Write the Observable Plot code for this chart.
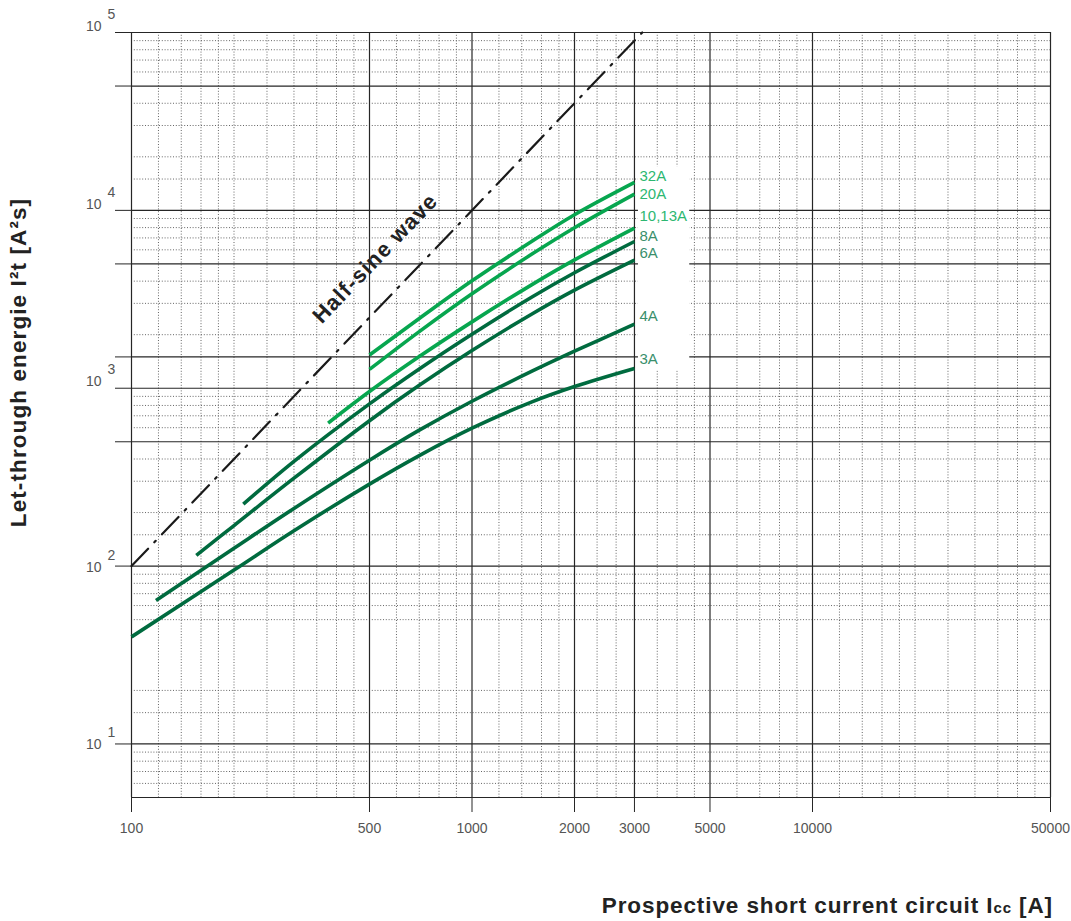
<!DOCTYPE html>
<html><head><meta charset="utf-8">
<script src="https://cdn.jsdelivr.net/npm/d3@7"></script>
<script src="https://cdn.jsdelivr.net/npm/@observablehq/plot@0.6"></script>
<style>
body{margin:0;background:#fff;}
#chart svg{display:block}
</style></head><body><div id="chart"></div>
<script>
// ---- curve data (prospective current A -> let-through energy A²s) ----
const x3A  = [100, 200, 300, 500, 700, 1000, 1500, 2000, 3000];
const y3A  = [40, 95, 158, 289, 418, 596, 838, 1022, 1291];
const x4A  = [118, 200, 300, 500, 700, 1000, 1500, 2000, 3000];
const y4A  = [64, 126, 211, 394, 581, 845, 1246, 1615, 2292];
const x6A  = [155, 200, 300, 500, 700, 1000, 1500, 2000, 3000];
const y6A  = [115, 169, 312, 657, 1038, 1628, 2616, 3561, 5252];
const x8A  = [213, 300, 500, 700, 1000, 1500, 2000, 3000];
const y8A  = [223, 388, 817, 1284, 2013, 3260, 4461, 6683];
const x10A = [378, 500, 700, 1000, 1500, 2000, 3000];
const y10A = [637, 958, 1506, 2361, 3824, 5265, 7952];
const x20A = [500, 700, 1000, 1500, 2000, 3000];
const y20A = [1276, 2082, 3398, 5677, 7983, 12337];
const x32A = [500, 700, 1000, 1500, 2000, 3000];
const y32A = [1539, 2465, 4016, 6700, 9446, 14355];
const seriesNames = ["3A", "4A", "6A", "8A", "10,13A", "20A", "32A"];

// half-sine reference line
const halfSineX = [100, 3162];
const halfSineY = [100, 100000];
const halfSineLabel = "Half-sine wave";
const halfSineLabelAt = [520, 2704];

// axes / grid values
const xTicks = [100, 500, 1000, 2000, 3000, 5000, 10000, 50000];
const xMinor = [120,140,160,180,200,250,300,350,400,450,600,700,800,900,1200,1400,1600,1800,2330,2650,3500,4000,4500,6000,7000,8000,9000,12000,14000,16000,18000,20000,25000,30000,35000,40000,45000];
const yMajor = [5, 10, 100, 500, 1000, 1500, 5000, 10000, 50000, 100000];
const yMinor = [6,7,8,9,15,20,50,60,70,80,90,150,200,300,400,600,700,800,900,2000,3000,4000,6000,7000,8000,9000,15000,20000,30000,40000,60000,70000,80000,90000];
const yTickMarks = [10, 100, 500, 1000, 1500, 5000, 10000, 50000, 100000];
const yDecades = [10, 100, 1000, 10000, 100000];
const yExponents = ["1", "2", "3", "4", "5"];
const xTitle = "Prospective short current circuit I";
const xTitleSub = "cc";
const xTitleEnd = " [A]";
const yTitle = "Let-through energie I²t [A²s]";

// ---- styles (kept apart from the data) ----
const dark = "#006b3f", bright = "#07a64f";
const darkLabel = "#3a8f6c", brightLabel = "#2db771";
const lineColor = {"3A": dark, "4A": dark, "6A": dark, "8A": dark, "10,13A": bright, "20A": bright, "32A": bright};
const labelColor = {"3A": darkLabel, "4A": darkLabel, "6A": darkLabel, "8A": darkLabel, "10,13A": brightLabel, "20A": brightLabel, "32A": brightLabel};
const labelDy = {"3A": -9, "4A": -8, "6A": -7, "8A": -5, "10,13A": -12, "20A": 0, "32A": -6};
const yBaseDy = [1, 1, -7, -6, -6];

const xsOf = {"3A": x3A, "4A": x4A, "6A": x6A, "8A": x8A, "10,13A": x10A, "20A": x20A, "32A": x32A};
const ysOf = {"3A": y3A, "4A": y4A, "6A": y6A, "8A": y8A, "10,13A": y10A, "20A": y20A, "32A": y32A};

const curveMarks = [];
for (const s of seriesNames) {
  const rows = xsOf[s].map((x, i) => ({s, x, y: ysOf[s][i]}));
  curveMarks.push(Plot.line(rows, {x: "x", y: "y", stroke: lineColor[s], strokeWidth: 3.6, curve: "catmull-rom", strokeLinecap: "butt"}));
  curveMarks.push(Plot.text([rows[rows.length - 1]], {x: "x", y: "y", text: () => s, dx: 5, dy: labelDy[s], textAnchor: "start", fill: labelColor[s], fontSize: 15}));
}

const tickLabelMarks = [];
yDecades.forEach((d, i) => {
  tickLabelMarks.push(Plot.text([d], {y: v => v, frameAnchor: "left", text: () => "10", dx: -30, dy: yBaseDy[i], textAnchor: "end", fill: "#555", fontSize: 14}));
  tickLabelMarks.push(Plot.text([d], {y: v => v, frameAnchor: "left", text: () => yExponents[i], dx: -24, dy: yBaseDy[i] - 12, textAnchor: "start", fill: "#555", fontSize: 14}));
});
tickLabelMarks.push(Plot.text(xTicks, {x: d => d, frameAnchor: "bottom", dy: 31, text: d => String(d), fill: "#555", fontSize: 14, lineAnchor: "middle", textAnchor: "middle"}));

const halfSine = halfSineX.map((x, i) => ({x, y: halfSineY[i]}));

const chart = Plot.plot({
  width: 1071, height: 921,
  marginLeft: 131, marginRight: 21, marginTop: 32, marginBottom: 124,
  style: {fontFamily: "'Liberation Sans', Arial, Helvetica, sans-serif", fontSize: "14px", background: "white", overflow: "visible"},
  x: {type: "log", domain: [100, 50000]},
  y: {type: "log", domain: [5, 100000]},
  marks: [
    Plot.ruleX(xMinor, {stroke: "#666", strokeWidth: 1, strokeDasharray: "1,1.8"}),
    Plot.ruleY(yMinor, {stroke: "#666", strokeWidth: 1, strokeDasharray: "1,1.8"}),
    Plot.ruleX(xTicks, {stroke: "#262626", strokeWidth: 1.2}),
    Plot.ruleY(yMajor, {stroke: "#262626", strokeWidth: 1.2}),
    Plot.rect([0], {x1: () => 3000, x2: () => 4360, y1: () => 1250, y2: () => 17600, insetLeft: 4, fill: "white"}),
    Plot.axisX({ticks: xTicks, tickSize: 15, tickFormat: () => "", stroke: "#262626", label: null}),
    Plot.axisY({ticks: yTickMarks, tickSize: 16, tickFormat: () => "", stroke: "#262626", label: null}),
    Plot.line(halfSine, {x: "x", y: "y", stroke: "#1a1a1a", strokeWidth: 2.2, strokeDasharray: "24,9,2,9"}),
    Plot.text([halfSineLabelAt], {x: d => d[0], y: d => d[1], text: () => halfSineLabel, rotate: -46.2, dy: -53, fontSize: 22, fontWeight: "bold", fill: "#222"}),
    ...curveMarks,
    ...tickLabelMarks
  ]
});

const svg = d3.select(chart);
svg.selectAll("text").filter(function(){ return this.textContent === halfSineLabel; }).style("letter-spacing", "1.2px");
const xt = svg.append("text")
  .attr("x", 1053).attr("y", 913).attr("text-anchor", "end")
  .attr("font-size", 22.5).attr("font-weight", "bold").attr("fill", "#222")
  .style("letter-spacing", "0.9px");
xt.append("tspan").text(xTitle);
xt.append("tspan").attr("font-size", 15).text(xTitleSub);
xt.append("tspan").text(xTitleEnd);
svg.append("text")
  .attr("transform", "translate(26,362.5) rotate(-90)")
  .attr("text-anchor", "middle")
  .attr("font-size", 22.5).attr("font-weight", "bold").attr("fill", "#222")
  .style("letter-spacing", "1.1px")
  .text(yTitle);

document.getElementById("chart").append(chart);
</script></body></html>
